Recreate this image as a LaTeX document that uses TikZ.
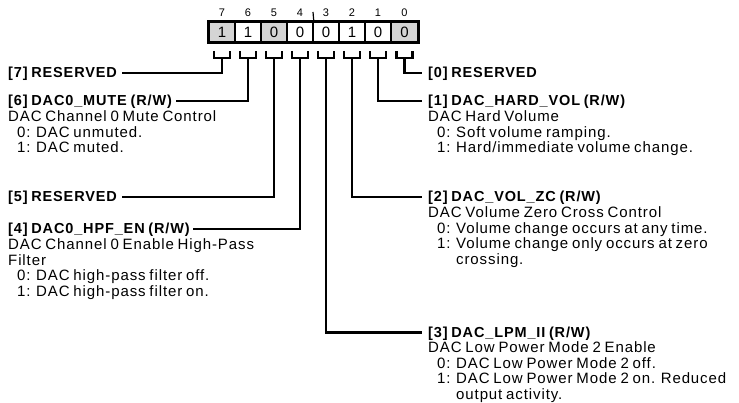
\documentclass[tikz,border=0pt]{standalone}
\usepackage{fontspec}
\setmainfont{Liberation Sans}[LetterSpace=6,WordSpace=0.75]
\newcommand\regitem[1]{\makebox[28pt][l]{\hspace*{9pt}#1}}
\newcommand\regcont{\hspace*{28pt}}
\begin{document}
\begin{tikzpicture}[x=1pt,y=-1pt,
  cell/.style={draw=black,line width=1.6pt,minimum width=26pt,minimum height=20pt,inner sep=0pt,font=\fontsize{15}{18}\selectfont},
  shade/.style={fill=black!17},
  bitnum/.style={inner sep=0pt,font=\fontsize{11}{13}\selectfont},
  lead/.style={line width=2.2pt},
  head/.style={anchor=base west,inner sep=0pt,font=\fontsize{14.5}{15.6}\selectfont\bfseries},
  desc/.style={anchor=base west,inner sep=0pt,font=\fontsize{15}{15.6}\selectfont}]
\useasboundingbox (0,0) rectangle (739,403);

% register cells
\node[cell,shade] (c7) at (222,32) {1};
\node[cell]       (c6) at (248,32) {1};
\node[cell,shade] (c5) at (274,32) {0};
\node[cell]       (c4) at (300,32) {0};
\node[cell]       (c3) at (326,32) {0};
\node[cell]       (c2) at (352,32) {1};
\node[cell]       (c1) at (378,32) {0};
\node[cell,shade] (c0) at (404.5,32) {0};
\draw[line width=2.4pt] (c7.north west) rectangle (c0.south east);

% bit numbers
\foreach \b/\x in {7/222,6/248,5/274,4/300,3/326,2/352,1/378,0/404.5}
  \node[bitnum] (n\b) at (\x,13) {\b};
\coordinate (tick) at (313,12);
\draw[line width=1.2pt] (c4.north east) -- (tick);

% brackets
\foreach \b in {7,6,5,4,3,2,1,0}{
  \draw[lead] ([xshift=-8pt,yshift=-8pt]c\b.south) -- ++(0,7) -- ++(16,0) -- ++(0,-7);
  \coordinate (s\b) at ([yshift=-15pt]c\b.south);
}

% left fields
\node[head] (h7) at (8,78) {[7] RESERVED};
\node[head] (h6) at (8,106) {[6] DAC0\_MUTE (R/W)};
\node[desc] (d6) at (8,121.6) {\begin{tabular}[t]{@{}l@{}}DAC Channel 0 Mute Control\\\regitem{0:}DAC unmuted.\\\regitem{1:}DAC muted.\end{tabular}};
\node[head] (h5) at (8,202) {[5] RESERVED};
\node[head] (h4) at (8,234) {[4] DAC0\_HPF\_EN (R/W)};
\node[desc] (d4) at (8,249.6) {\begin{tabular}[t]{@{}l@{}}DAC Channel 0 Enable High-Pass\\Filter\\\regitem{0:}DAC high-pass filter off.\\\regitem{1:}DAC high-pass filter on.\end{tabular}};

% right fields
\node[head] (h0) at (428,78) {[0] RESERVED};
\node[head] (h1) at (428,106) {[1] DAC\_HARD\_VOL (R/W)};
\node[desc] (d1) at (428,121.6) {\begin{tabular}[t]{@{}l@{}}DAC Hard Volume\\\regitem{0:}Soft volume ramping.\\\regitem{1:}Hard/immediate volume change.\end{tabular}};
\node[head] (h2) at (428,202) {[2] DAC\_VOL\_ZC (R/W)};
\node[desc] (d2) at (428,217.6) {\begin{tabular}[t]{@{}l@{}}DAC Volume Zero Cross Control\\\regitem{0:}Volume change occurs at any time.\\\regitem{1:}Volume change only occurs at zero\\\regcont crossing.\end{tabular}};
\node[head] (h3) at (428,337.5) {[3] DAC\_LPM\_II (R/W)};
\node[desc] (d3) at (428,352.6) {\begin{tabular}[t]{@{}l@{}}DAC Low Power Mode 2 Enable\\\regitem{0:}DAC Low Power Mode 2 off.\\\regitem{1:}DAC Low Power Mode 2 on. Reduced\\\regcont output activity.\end{tabular}};

% leaders
\draw[lead] (s7) |- ([xshift=5pt,yshift=5pt]h7.base east);
\draw[lead] (s6) |- ([xshift=4pt,yshift=5pt]h6.base east);
\draw[lead] (s5) |- ([xshift=5pt,yshift=5pt]h5.base east);
\draw[lead] (s4) |- ([xshift=3pt,yshift=5pt]h4.base east);
\draw[lead] (s3) |- ([xshift=-6pt,yshift=5pt]h3.base west);
\draw[lead] (s2) |- ([xshift=-6pt,yshift=5pt]h2.base west);
\draw[lead] (s1) |- ([xshift=-6pt,yshift=5pt]h1.base west);
\draw[lead] (s0) |- ([xshift=-6pt,yshift=5pt]h0.base west);
\end{tikzpicture}
\end{document}
